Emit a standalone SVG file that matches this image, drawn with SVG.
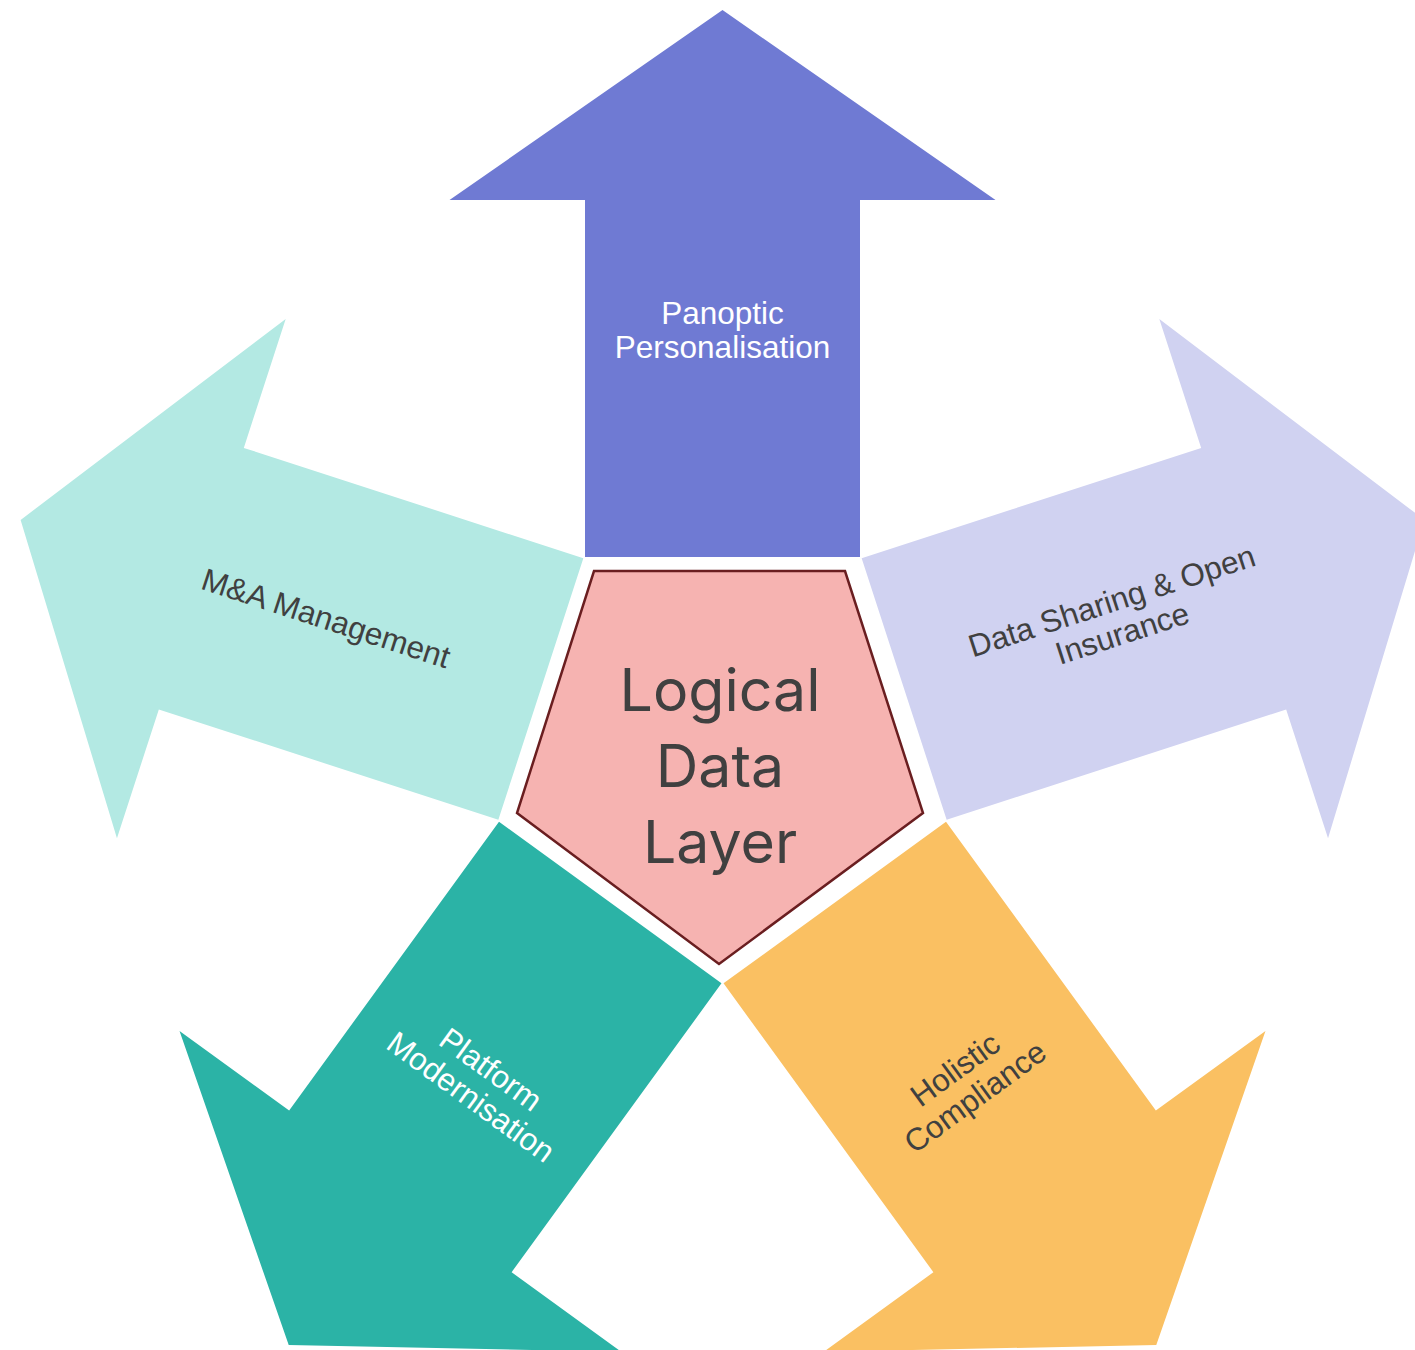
<svg xmlns="http://www.w3.org/2000/svg" xmlns:xlink="http://www.w3.org/1999/xlink" width="1415" height="1350" viewBox="0 0 1415 1350">
  <defs>
    <style>
      .label { font-family: "Liberation Sans", Arial, sans-serif; font-size: 31.5px; text-anchor: middle; }
      .light { fill: #ffffff; }
      .dark { fill: #404040; }
      .core { font-family: Inter, Lato, "Liberation Sans", sans-serif; font-size: 59px; fill: #404040; text-anchor: middle; }
    </style>
    <!-- Upward arrow, drawn relative to the hub centre (722.5, 748) -->
    <polygon id="arrow" points="585,557 585,200 449.5,200 722.5,10 995.5,200 860,200 860,557"/>
  </defs>

  <rect width="1415" height="1350" fill="#ffffff"/>

  <g id="arrow-panoptic">
    <use xlink:href="#arrow" href="#arrow" fill="#6f7ad3"/>
    <g transform="translate(722.5 330)">
      <text class="label light" y="-6">Panoptic</text>
      <text class="label light" y="28">Personalisation</text>
    </g>
  </g>

  <g id="arrow-data-sharing">
    <use xlink:href="#arrow" href="#arrow" fill="#d0d2f1" transform="rotate(72 722.5 748)"/>
    <g transform="translate(1117 617) rotate(-18)">
      <text class="label dark" y="-6">Data Sharing &amp; Open</text>
      <text class="label dark" y="28">Insurance</text>
    </g>
  </g>

  <g id="arrow-compliance">
    <use xlink:href="#arrow" href="#arrow" fill="#fac062" transform="rotate(144 722.5 748)"/>
    <g transform="translate(965 1083) rotate(-36)">
      <text class="label dark" y="-6">Holistic</text>
      <text class="label dark" y="28">Compliance</text>
    </g>
  </g>

  <g id="arrow-platform">
    <use xlink:href="#arrow" href="#arrow" fill="#2bb3a6" transform="rotate(216 722.5 748)"/>
    <g transform="translate(481 1083) rotate(36)">
      <text class="label light" y="-6">Platform</text>
      <text class="label light" y="28">Modernisation</text>
    </g>
  </g>

  <g id="arrow-mna">
    <use xlink:href="#arrow" href="#arrow" fill="#b3e9e3" transform="rotate(288 722.5 748)"/>
    <g transform="translate(326 618) rotate(18)">
      <text class="label dark" y="11">M&amp;A Management</text>
    </g>
  </g>

  <g id="logical-data-layer">
    <polygon points="594,571 845,571 923,813 719,964 517,813" fill="#f6b3b1" stroke="#6a1e20" stroke-width="2.5" stroke-linejoin="miter"/>
    <text class="core" x="720" y="711">Logical</text>
    <text class="core" x="720" y="787">Data</text>
    <text class="core" x="720" y="863">Layer</text>
  </g>
</svg>
